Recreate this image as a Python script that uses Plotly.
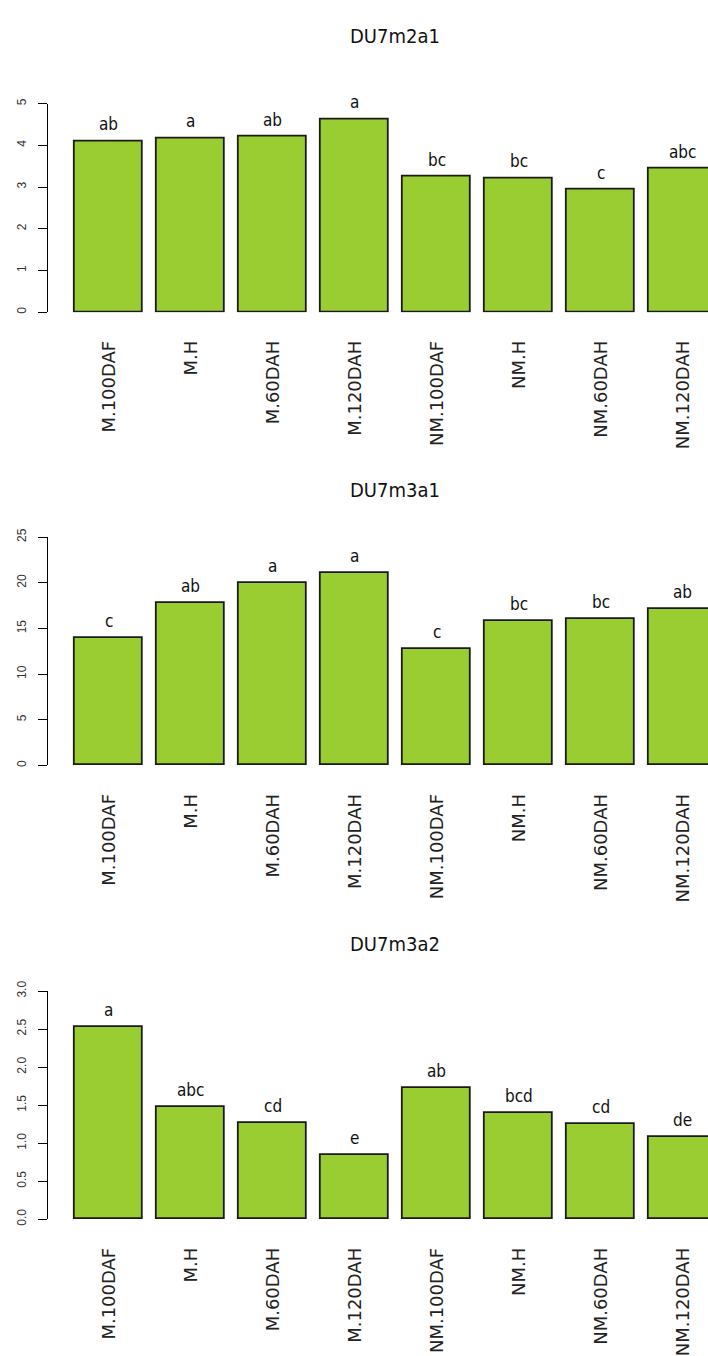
import plotly.graph_objects as go
from plotly.subplots import make_subplots

# data
categories = ["M.100DAF", "M.H", "M.60DAH", "M.120DAH",
              "NM.100DAF", "NM.H", "NM.60DAH", "NM.120DAH"]

titles = ["DU7m2a1", "DU7m3a1", "DU7m3a2"]

du7m2a1 = [4.10, 4.17, 4.21, 4.62, 3.25, 3.21, 2.93, 3.44]
du7m2a1_letters = ["ab", "a", "ab", "a", "bc", "bc", "c", "abc"]

du7m3a1 = [13.96, 17.73, 20.0, 21.08, 12.70, 15.79, 16.0, 17.09]
du7m3a1_letters = ["c", "ab", "a", "a", "c", "bc", "bc", "ab"]

du7m3a2 = [2.53, 1.475, 1.27, 0.85, 1.73, 1.40, 1.25, 1.08]
du7m3a2_letters = ["a", "abc", "cd", "e", "ab", "bcd", "cd", "de"]

series = [du7m2a1, du7m3a1, du7m3a2]
letters = [du7m2a1_letters, du7m3a1_letters, du7m3a2_letters]

y_max = [5, 25, 3]
y_dtick = [1, 5, 0.5]
y_fmt = ["d", "d", ".1f"]

# -------------------------------
# layout geometry (pixels in a 708 x 1356 page)
# -------------------------------
W, H = 708, 1356
panel_px = [(95, 306.7), (535, 766.7), (995.7, 1227.3)]   # top (ymax) / bottom (0)
title_px = [26, 487, 948]
x_left_px = 47.7

BAR = "#9acd32"
NARROW = "Liberation Sans Narrow, DejaVu Sans Condensed, Arial Narrow, sans-serif"

fig = make_subplots(rows=3, cols=1)

xpos = list(range(len(categories)))

for k in range(3):
    row = k + 1
    fig.add_trace(go.Bar(
        x=xpos, y=series[k], width=0.84,
        marker=dict(color=BAR, line=dict(color="#1a1a1a", width=1.8)),
        showlegend=False, hoverinfo="skip"
    ), row=row, col=1)

    xa = "x" if k == 0 else f"x{row}"
    ya = "y" if k == 0 else f"y{row}"
    for i, v in enumerate(series[k]):
        fig.add_annotation(
            x=i, y=v, xref=xa, yref=ya, text=letters[k][i], showarrow=False,
            yanchor="bottom", yshift=5,
            font=dict(family=NARROW, size=17, color="#111")
        )

    top, bot = panel_px[k]
    fig.update_yaxes(
        domain=[1 - bot / H, 1 - top / H],
        range=[0, y_max[k]], dtick=y_dtick[k], tick0=0, tickformat=y_fmt[k],
        showgrid=False, zeroline=False,
        showline=True, linecolor="black", linewidth=1,
        ticks="outside", ticklen=9, tickcolor="black", tickwidth=1,
        tickangle=-90, ticklabelstandoff=7,
        tickfont=dict(family="Liberation Sans, Arial, sans-serif", size=12, color="#333"),
        row=row, col=1
    )
    fig.update_xaxes(
        domain=[x_left_px / W, 1],
        range=[-0.744, 7.308],
        tickmode="array", tickvals=xpos, ticktext=categories,
        tickangle=-90, ticks="", showline=False, showgrid=False, zeroline=False,
        ticklabelstandoff=24,
        tickfont=dict(family="DejaVu Sans, sans-serif", size=18, color="#222"),
        row=row, col=1
    )

    fig.add_annotation(
        x=395 / W, y=1 - title_px[k] / H, xref="paper", yref="paper",
        text=titles[k], showarrow=False, xanchor="center", yanchor="middle",
        font=dict(family=NARROW, size=20, color="#111")
    )

fig.update_layout(
    width=W, height=H,
    margin=dict(l=0, r=0, t=0, b=0),
    paper_bgcolor="white", plot_bgcolor="white",
    bargap=0
)

fig.write_html(
    "out.html",
    config={"displayModeBar": False},
    post_script="document.body.style.margin='0';document.body.style.overflow='hidden';"
)
